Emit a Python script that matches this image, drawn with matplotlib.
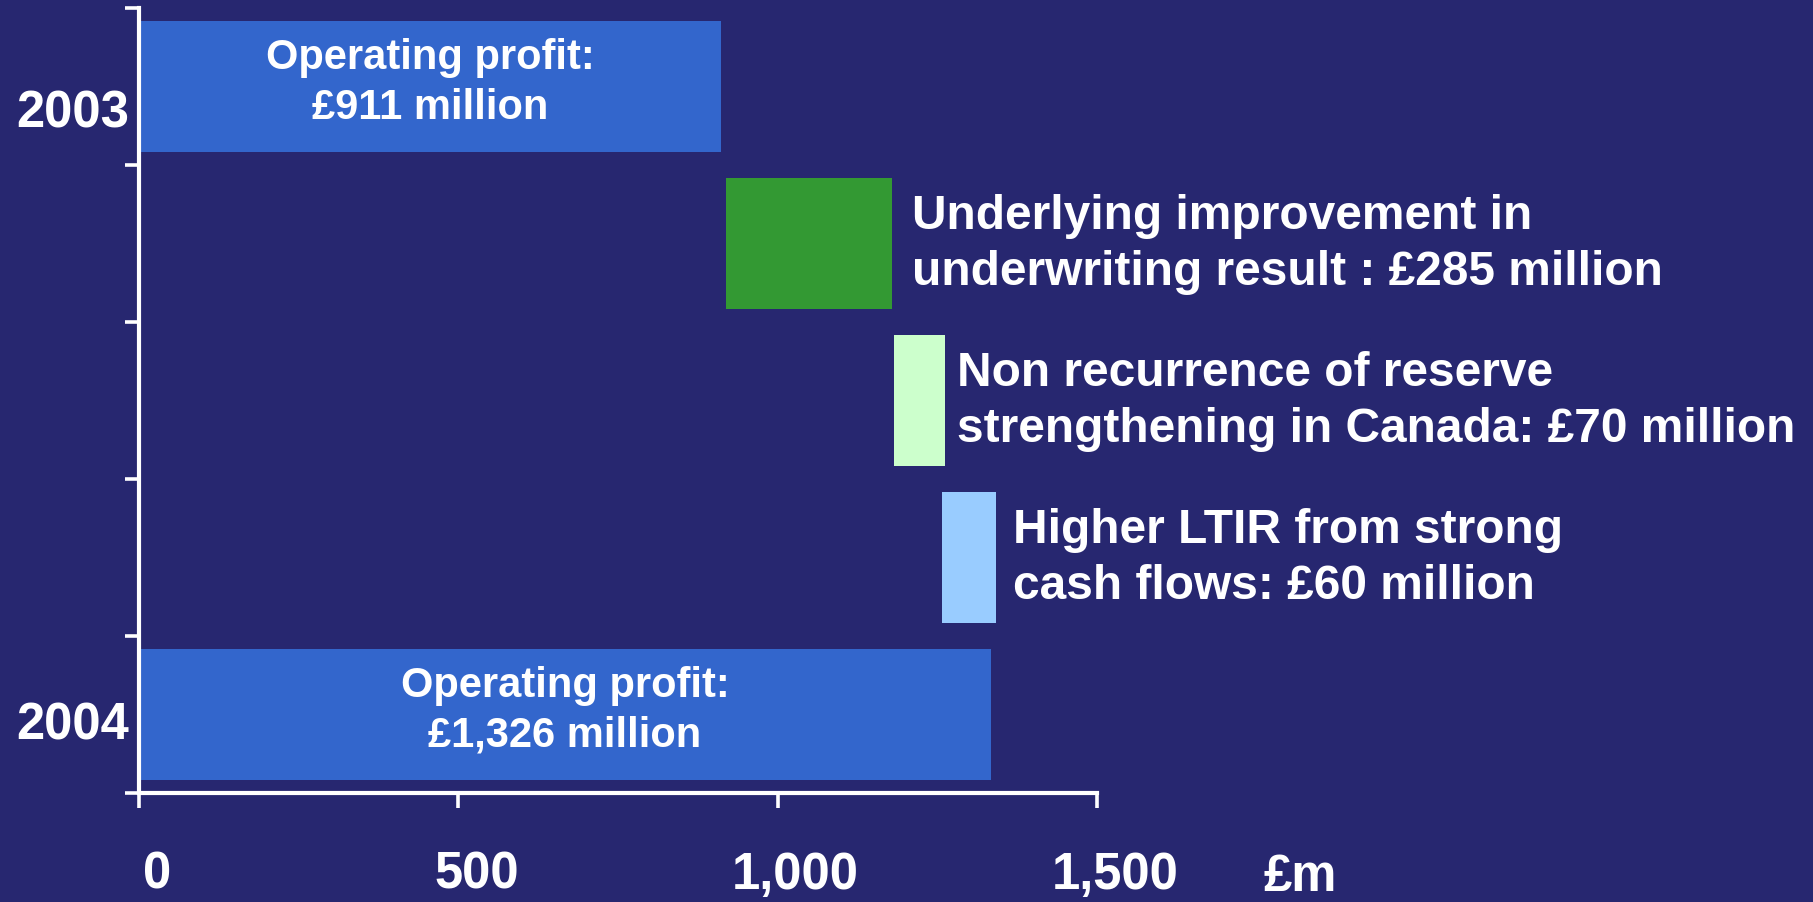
import matplotlib
matplotlib.use('Agg')
import matplotlib.pyplot as plt
import matplotlib.transforms as mtrans

# ========= data (£m) =========
bar_start = [0, 919, 1182, 1257, 0]
bar_end = [911, 1179, 1262, 1342, 1334]
bar_colors = ['#3366CC', '#339933', '#CCFFCC', '#99CCFF', '#3366CC']

year_labels = ['2003', '2004']
year_rows = [0, 4]

inside_labels = ['Operating profit:\n£911 million', 'Operating profit:\n£1,326 million']
side_labels = ['Underlying improvement in\nunderwriting result : £285 million',
               'Non recurrence of reserve\nstrengthening in Canada: £70 million',
               'Higher LTIR from strong\ncash flows: £60 million']
side_rows = [1, 2, 3]

xticks = [0, 500, 1000, 1500]
xtick_labels = ['0', '500', '1,000', '1,500']
unit_label = '£m'

# ========= style =========
bg = '#272770'
plt.rcParams['font.family'] = ['Liberation Sans', 'DejaVu Sans']
plt.rcParams['font.weight'] = 'bold'

fig = plt.figure(figsize=(18.13, 9.03), dpi=100, facecolor=bg)
ax = fig.add_axes([139/1813, 1 - 794/903, (1097 - 139)/1813, (794 - 9)/903])
ax.set_facecolor(bg)

n = len(bar_start)
for i in range(n):
    ax.barh(i, bar_end[i] - bar_start[i], left=bar_start[i], height=0.83,
            color=bar_colors[i], edgecolor='none')

ax.set_xlim(0, 1500)
ax.set_ylim(n - 0.5, -0.5)

# category boundaries as ticks on the y axis
ax.set_yticks([i - 0.5 for i in range(n + 1)])
ax.set_yticklabels([])
ax.set_xticks(xticks)
ax.set_xticklabels(xtick_labels, fontsize=36.5, color='white', fontweight='bold')
ax.tick_params(axis='x', length=11, width=2.6, color='white', direction='out', pad=30)
ax.tick_params(axis='y', length=10, width=2.6, color='white', direction='out')
shift = mtrans.ScaledTranslation(0.18, 0, fig.dpi_scale_trans)
for lab in ax.get_xticklabels():
    lab.set_transform(lab.get_transform() + shift)

for s in ['top', 'right']:
    ax.spines[s].set_visible(False)
for s in ['left', 'bottom']:
    ax.spines[s].set_color('white')
    ax.spines[s].set_linewidth(3)

# year labels left of the axis
year_off = [-26, -11]
for row, txt, off in zip(year_rows, year_labels, year_off):
    ax.annotate(txt, xy=(0, row), xytext=(-10, off), textcoords='offset pixels',
                ha='right', va='center', fontsize=36.5, color='white',
                fontweight='bold', annotation_clip=False)

# labels inside the total bars
for row, txt in zip(year_rows, inside_labels):
    ax.text((bar_start[row] + bar_end[row]) / 2, row - 0.03, txt, ha='center', va='center',
            fontsize=30, color='white', fontweight='bold', linespacing=1.32)

# labels next to the step bars
side_gap = [20, 12, 17]
for row, txt, gap in zip(side_rows, side_labels, side_gap):
    ax.annotate(txt, xy=(bar_end[row], row), xytext=(gap, 0), textcoords='offset pixels',
                ha='left', va='center', fontsize=34.5, color='white',
                fontweight='bold', linespacing=1.3, annotation_clip=False)

# unit label to the right of the tick labels
ax.annotate(unit_label, xy=(1500, 0), xycoords=('data', 'axes fraction'),
            xytext=(203, -84), textcoords='offset pixels', ha='center', va='center',
            fontsize=36.5, color='white', fontweight='bold', annotation_clip=False)

fig.savefig('out.png', dpi=100, facecolor=bg)
